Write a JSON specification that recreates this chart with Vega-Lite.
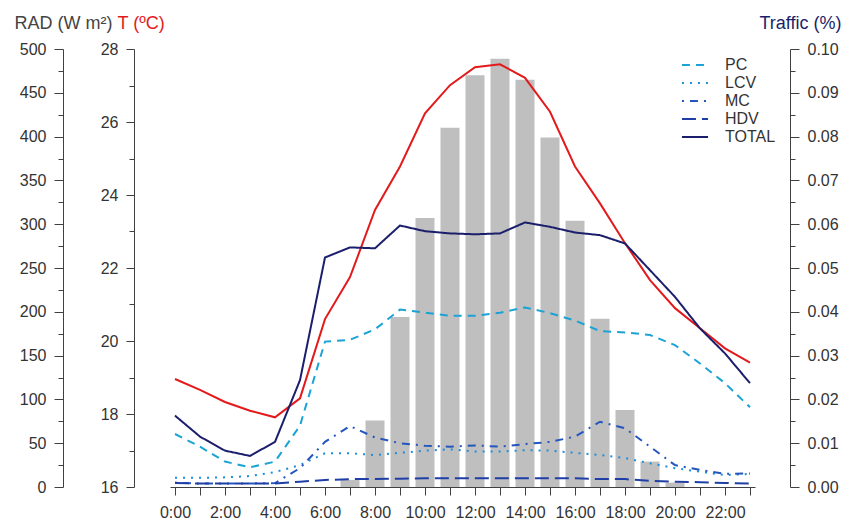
{
  "$schema": "https://vega.github.io/schema/vega-lite/v6.json",
  "width": 585,
  "height": 438,
  "autosize": {"type": "none"},
  "padding": {"left": 170, "top": 49, "right": 106, "bottom": 35},
  "background": "white",
  "config": {
    "font": "Liberation Sans",
    "view": {"stroke": null},
    "axis": {
      "grid": false,
      "domainColor": "#404040",
      "tickColor": "#404040",
      "labelColor": "#333333",
      "labelFont": "Liberation Sans",
      "labelFontSize": 16,
      "titleFont": "Liberation Sans",
      "titleFontSize": 18,
      "titleFontWeight": "normal",
      "domainWidth": 1,
      "tickWidth": 1
    }
  },
  "datasets": {
    "rad": [
      {"hour": 7, "rad": 8},
      {"hour": 8, "rad": 76},
      {"hour": 9, "rad": 194},
      {"hour": 10, "rad": 307},
      {"hour": 11, "rad": 410},
      {"hour": 12, "rad": 470},
      {"hour": 13, "rad": 489},
      {"hour": 14, "rad": 465},
      {"hour": 15, "rad": 399},
      {"hour": 16, "rad": 304},
      {"hour": 17, "rad": 192},
      {"hour": 18, "rad": 88},
      {"hour": 19, "rad": 29},
      {"hour": 20, "rad": 5}
    ],
    "temp": [
      {"hour": 0, "t": 18.96},
      {"hour": 1, "t": 18.66},
      {"hour": 2, "t": 18.33},
      {"hour": 3, "t": 18.09},
      {"hour": 4, "t": 17.91},
      {"hour": 5, "t": 18.43},
      {"hour": 6, "t": 20.6},
      {"hour": 7, "t": 21.75},
      {"hour": 8, "t": 23.59},
      {"hour": 9, "t": 24.78},
      {"hour": 10, "t": 26.24},
      {"hour": 11, "t": 27.01},
      {"hour": 12, "t": 27.5},
      {"hour": 13, "t": 27.58},
      {"hour": 14, "t": 27.21},
      {"hour": 15, "t": 26.28},
      {"hour": 16, "t": 24.78},
      {"hour": 17, "t": 23.77},
      {"hour": 18, "t": 22.68},
      {"hour": 19, "t": 21.67},
      {"hour": 20, "t": 20.9},
      {"hour": 21, "t": 20.35},
      {"hour": 22, "t": 19.8},
      {"hour": 23, "t": 19.41}
    ],
    "traffic": [
      {"hour": 0, "PC": 0.0121, "LCV": 0.0021, "MC": 0.0010, "HDV": 0.0009, "TOTAL": 0.0163},
      {"hour": 1, "PC": 0.0092, "LCV": 0.0021, "MC": 0.0008, "HDV": 0.0008, "TOTAL": 0.0115},
      {"hour": 2, "PC": 0.0058, "LCV": 0.0022, "MC": 0.0008, "HDV": 0.0008, "TOTAL": 0.0083},
      {"hour": 3, "PC": 0.0045, "LCV": 0.0025, "MC": 0.0008, "HDV": 0.0008, "TOTAL": 0.0071},
      {"hour": 4, "PC": 0.0058, "LCV": 0.0034, "MC": 0.0009, "HDV": 0.0008, "TOTAL": 0.0103},
      {"hour": 5, "PC": 0.0140, "LCV": 0.0050, "MC": 0.0043, "HDV": 0.0012, "TOTAL": 0.0244},
      {"hour": 6, "PC": 0.0332, "LCV": 0.0077, "MC": 0.0103, "HDV": 0.0016, "TOTAL": 0.0524},
      {"hour": 7, "PC": 0.0336, "LCV": 0.0077, "MC": 0.0139, "HDV": 0.0018, "TOTAL": 0.0547},
      {"hour": 8, "PC": 0.0360, "LCV": 0.0073, "MC": 0.0113, "HDV": 0.0018, "TOTAL": 0.0545},
      {"hour": 9, "PC": 0.0405, "LCV": 0.0078, "MC": 0.0100, "HDV": 0.0019, "TOTAL": 0.0597},
      {"hour": 10, "PC": 0.0398, "LCV": 0.0083, "MC": 0.0094, "HDV": 0.0020, "TOTAL": 0.0584},
      {"hour": 11, "PC": 0.0391, "LCV": 0.0086, "MC": 0.0092, "HDV": 0.0020, "TOTAL": 0.0579},
      {"hour": 12, "PC": 0.0391, "LCV": 0.0081, "MC": 0.0095, "HDV": 0.0020, "TOTAL": 0.0577},
      {"hour": 13, "PC": 0.0398, "LCV": 0.0081, "MC": 0.0092, "HDV": 0.0020, "TOTAL": 0.0579},
      {"hour": 14, "PC": 0.0410, "LCV": 0.0084, "MC": 0.0098, "HDV": 0.0020, "TOTAL": 0.0604},
      {"hour": 15, "PC": 0.0397, "LCV": 0.0083, "MC": 0.0103, "HDV": 0.0020, "TOTAL": 0.0594},
      {"hour": 16, "PC": 0.0380, "LCV": 0.0078, "MC": 0.0115, "HDV": 0.0020, "TOTAL": 0.0581},
      {"hour": 17, "PC": 0.0356, "LCV": 0.0073, "MC": 0.0149, "HDV": 0.0018, "TOTAL": 0.0575},
      {"hour": 18, "PC": 0.0353, "LCV": 0.0066, "MC": 0.0134, "HDV": 0.0018, "TOTAL": 0.0556},
      {"hour": 19, "PC": 0.0347, "LCV": 0.0054, "MC": 0.0092, "HDV": 0.0014, "TOTAL": 0.0495},
      {"hour": 20, "PC": 0.0324, "LCV": 0.0043, "MC": 0.0050, "HDV": 0.0012, "TOTAL": 0.0434},
      {"hour": 21, "PC": 0.0282, "LCV": 0.0035, "MC": 0.0039, "HDV": 0.0011, "TOTAL": 0.0362},
      {"hour": 22, "PC": 0.0237, "LCV": 0.0027, "MC": 0.0030, "HDV": 0.0009, "TOTAL": 0.0305},
      {"hour": 23, "PC": 0.0182, "LCV": 0.0030, "MC": 0.0031, "HDV": 0.0008, "TOTAL": 0.0237}
    ]
  },
  "encoding": {
    "x": {
      "field": "hour",
      "type": "quantitative",
      "scale": {"domain": [0, 23], "nice": false, "zero": false},
      "axis": {
        "title": null,
        "values": [0,1,2,3,4,5,6,7,8,9,10,11,12,13,14,15,16,17,18,19,20,21,22,23],
        "labelExpr": "datum.value % 2 == 0 ? datum.value + ':00' : ''",
        "tickSize": 8,
        "labelPadding": 9,
        "labelFlush": false,
        "labelOverlap": false
      }
    }
  },
  "layer": [
    {
      "data": {"name": "rad"},
      "mark": {"type": "bar", "width": 19, "color": "#bfbfbf"},
      "encoding": {
        "y": {
          "field": "rad",
          "type": "quantitative",
          "scale": {"domain": [0, 500], "nice": false},
          "axis": {
            "orient": "left",
            "offset": 107,
            "values": [0,25,50,75,100,125,150,175,200,225,250,275,300,325,350,375,400,425,450,475,500],
            "labelExpr": "datum.value % 50 == 0 ? datum.label : ''",
            "tickSize": {"condition": {"test": "datum.value % 50 == 0", "value": 9}, "value": 5},
            "labelPadding": 8,
            "labelOverlap": false,
            "title": "RAD (W m²)",
            "titleColor": "#444444",
            "titleAngle": 0,
            "titleAlign": "left",
            "titleBaseline": "alphabetic",
            "titleX": -49,
            "titleY": -21
          }
        }
      }
    },
    {
      "data": {"name": "temp"},
      "mark": {"type": "line", "color": "#e31a1c", "strokeWidth": 2},
      "encoding": {
        "y": {
          "field": "t",
          "type": "quantitative",
          "scale": {"domain": [16, 28], "nice": false, "zero": false},
          "axis": {
            "orient": "left",
            "offset": 36,
            "values": [16,17,18,19,20,21,22,23,24,25,26,27,28],
            "labelExpr": "datum.value % 2 == 0 ? datum.label : ''",
            "tickSize": {"condition": {"test": "datum.value % 2 == 0", "value": 8}, "value": 5},
            "labelPadding": 8,
            "labelOverlap": false,
            "title": "T (ºC)",
            "titleColor": "#e31a1c",
            "titleAngle": 0,
            "titleAlign": "left",
            "titleBaseline": "alphabetic",
            "titleX": -17,
            "titleY": -21
          }
        }
      }
    },
    {
      "data": {"name": "traffic"},
      "transform": [
        {"fold": ["PC", "LCV", "MC", "HDV", "TOTAL"], "as": ["vehicle", "share"]}
      ],
      "mark": {"type": "line", "strokeWidth": 2},
      "encoding": {
        "y": {
          "field": "share",
          "type": "quantitative",
          "scale": {"domain": [0, 0.1], "nice": false},
          "axis": {
            "orient": "right",
            "offset": 35,
            "values": [0,0.005,0.01,0.015,0.02,0.025,0.03,0.035,0.04,0.045,0.05,0.055,0.06,0.065,0.07,0.075,0.08,0.085,0.09,0.095,0.1],
            "labelExpr": "round(datum.value * 1000) % 10 == 0 ? format(datum.value, '.2f') : ''",
            "tickSize": {"condition": {"test": "round(datum.value * 1000) % 10 == 0", "value": 9}, "value": 5},
            "labelPadding": 8,
            "labelOverlap": false,
            "title": "Traffic (%)",
            "titleColor": "#1b1f6b",
            "titleAngle": 0,
            "titleAlign": "left",
            "titleBaseline": "alphabetic",
            "titleX": -31,
            "titleY": -21
          }
        },
        "color": {
          "field": "vehicle",
          "type": "nominal",
          "scale": {
            "domain": ["PC", "LCV", "MC", "HDV", "TOTAL"],
            "range": ["#1ba3d6", "#1e8fd5", "#2456c0", "#1f3fa6", "#1b1f6b"]
          },
          "legend": {
            "title": null,
            "orient": "none",
            "legendX": 515,
            "legendY": 6,
            "symbolType": "M-1.45,0H1.45",
            "symbolSize": 324,
            "symbolStrokeWidth": 2,
            "labelFontSize": 16,
            "labelColor": "#333333",
            "labelOffset": 20,
            "rowPadding": 0
          }
        },
        "strokeDash": {
          "field": "vehicle",
          "type": "nominal",
          "scale": {
            "domain": ["PC", "LCV", "MC", "HDV", "TOTAL"],
            "range": [[8, 6], [2, 6], [2, 6, 8, 6], [14, 6], [1, 0]]
          },
          "legend": null
        }
      }
    }
  ],
  "resolve": {"scale": {"y": "independent"}, "axis": {"y": "independent"}}
}
